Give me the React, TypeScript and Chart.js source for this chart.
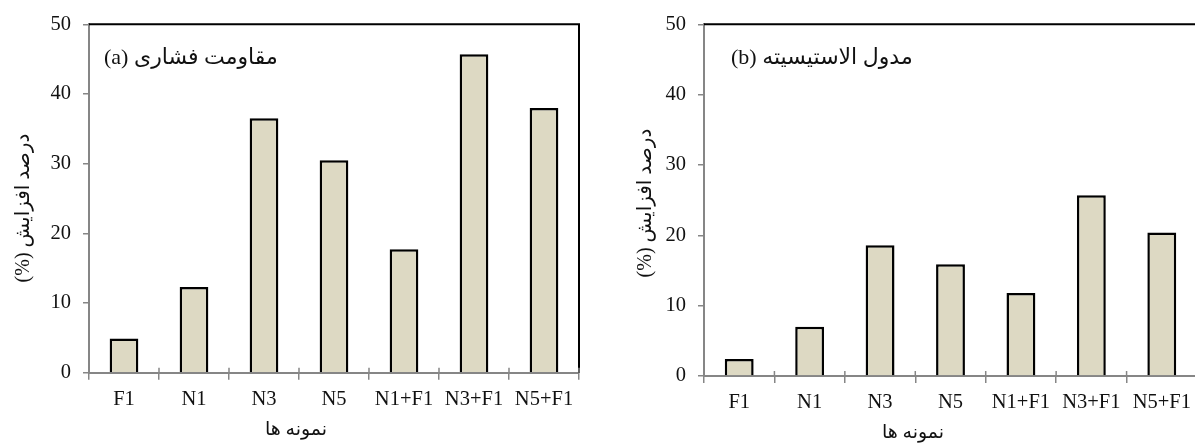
import React, { useEffect, useRef } from 'react';
import { Chart, registerables } from 'chart.js';

Chart.register(...registerables);

// ---- data ----
const categories = ['F1', 'N1', 'N3', 'N5', 'N1+F1', 'N3+F1', 'N5+F1'];
const compressiveIncrease = [4.9, 12.3, 36.5, 30.5, 17.7, 45.7, 38.0];
const modulusIncrease = [2.4, 7.0, 18.6, 15.9, 11.8, 25.7, 20.4];
const yTickValues = [0, 10, 20, 30, 40, 50];
const yAxisTitle = 'درصد افزایش (%)';
const xAxisTitle = 'نمونه ها';
const panelTitleA = 'مقاومت فشاری (a)';
const panelTitleB = 'مدول الاستیسیته (b)';

const SERIF = "'Liberation Serif', 'Times New Roman', 'DejaVu Serif', serif";
const PERSIAN = "'Liberation Serif', 'DejaVu Sans', serif";
const AXIS_GRAY = '#868686';
const BAR_FILL = '#DDD9C3';

type PanelOpts = {
  values: number[];
  panel: string;
  axisWidth: number;
  axisHeight: number;
  padTop: number;
  padRight: number;
  panelX: number;
  panelY: number;
  yTitleX: number;
  yTitleY: number;
  xTitleX: number;
  xTitleY: number;
};

const decorPlugin = {
  id: 'decor',
  afterDraw(chart: any, _args: any, o: any) {
    const { ctx, chartArea } = chart;
    const { left, right, top, bottom } = chartArea;
    ctx.save();
    // top + right frame
    ctx.strokeStyle = '#000';
    ctx.lineWidth = 2;
    ctx.beginPath();
    ctx.moveTo(left, top);
    ctx.lineTo(right, top);
    ctx.lineTo(right, bottom);
    ctx.stroke();
    // inner part of category boundary ticks
    const xs = chart.scales.x;
    const half = (xs.getPixelForValue(1) - xs.getPixelForValue(0)) / 2;
    ctx.strokeStyle = AXIS_GRAY;
    ctx.lineWidth = 1.5;
    for (let i = 0; i <= categories.length; i++) {
      const px = xs.getPixelForValue(i) - half;
      ctx.beginPath();
      ctx.moveTo(px, bottom - 5);
      ctx.lineTo(px, bottom);
      ctx.stroke();
    }
    // texts
    ctx.fillStyle = '#111';
    ctx.direction = 'rtl';
    ctx.textBaseline = 'middle';
    ctx.font = `22px ${PERSIAN}`;
    ctx.textAlign = 'left';
    ctx.fillText(o.panel, o.panelX, o.panelY);

    ctx.font = `19px ${PERSIAN}`;
    ctx.textAlign = 'center';
    ctx.fillText(xAxisTitle, o.xTitleX, o.xTitleY);

    ctx.font = `20px ${PERSIAN}`;
    ctx.translate(o.yTitleX, o.yTitleY);
    ctx.rotate(-Math.PI / 2);
    ctx.fillText(yAxisTitle, 0, 0);
    ctx.restore();
  },
};

function makeConfig(p: PanelOpts): any {
  return {
    type: 'bar',
    data: {
      labels: categories,
      datasets: [
        {
          data: p.values,
          backgroundColor: BAR_FILL,
          borderColor: '#000',
          borderWidth: 2.5,
          borderSkipped: 'bottom',
          barPercentage: 0.41,
          categoryPercentage: 1,
        },
      ],
    },
    plugins: [decorPlugin],
    options: {
      responsive: false,
      animation: false,
      devicePixelRatio: 1,
      layout: { padding: { top: p.padTop, right: p.padRight, left: 0, bottom: 0 } },
      plugins: {
        legend: { display: false },
        tooltip: { enabled: false },
        decor: {
          panel: p.panel,
          panelX: p.panelX,
          panelY: p.panelY,
          yTitleX: p.yTitleX,
          yTitleY: p.yTitleY,
          xTitleX: p.xTitleX,
          xTitleY: p.xTitleY,
        },
      },
      scales: {
        x: {
          offset: true,
          grid: {
            offset: true,
            drawOnChartArea: false,
            drawTicks: true,
            tickLength: 7,
            color: AXIS_GRAY,
            lineWidth: 1.5,
          },
          border: { color: AXIS_GRAY, width: 2 },
          ticks: {
            color: '#111',
            font: { family: SERIF, size: 20.5 },
            padding: 7.5,
            maxRotation: 0,
            autoSkip: false,
          },
          afterFit(scale: any) {
            scale.height = p.axisHeight;
          },
        },
        y: {
          min: 0,
          max: 50,
          afterBuildTicks(scale: any) {
            scale.ticks = yTickValues.map((v) => ({ value: v }));
          },
          grid: {
            drawOnChartArea: false,
            drawTicks: true,
            tickLength: 6,
            color: AXIS_GRAY,
            lineWidth: 1.5,
          },
          border: { color: AXIS_GRAY, width: 2 },
          ticks: {
            color: '#111',
            font: { family: SERIF, size: 20.5 },
            padding: 12,
          },
          afterFit(scale: any) {
            scale.width = p.axisWidth;
          },
        },
      },
    },
  };
}

function BarPanel({ opts, left }: { opts: PanelOpts; left: number }) {
  const ref = useRef<HTMLCanvasElement | null>(null);
  useEffect(() => {
    if (!ref.current) return;
    const chart = new Chart(ref.current, makeConfig(opts));
    return () => chart.destroy();
  }, [opts]);
  return (
    <canvas
      ref={ref}
      width={600}
      height={443}
      style={{ position: 'absolute', left, top: 0, width: 600, height: 443 }}
    />
  );
}

const panelA: PanelOpts = {
  values: compressiveIncrease,
  panel: panelTitleA,
  axisWidth: 89,
  axisHeight: 70.3,
  padTop: 19.7,
  padRight: 21,
  panelX: 104,
  panelY: 58,
  yTitleX: 24,
  yTitleY: 208,
  xTitleX: 296,
  xTitleY: 430,
};

const panelB: PanelOpts = {
  values: modulusIncrease,
  panel: panelTitleB,
  axisWidth: 104,
  axisHeight: 67,
  padTop: 20.7,
  padRight: 3,
  panelX: 131,
  panelY: 58,
  yTitleX: 46,
  yTitleY: 203,
  xTitleX: 313,
  xTitleY: 433,
};

export default function App() {
  return (
    <div
      style={{
        position: 'absolute',
        left: 0,
        top: 0,
        width: 1195,
        height: 443,
        overflow: 'hidden',
        background: '#fff',
      }}
    >
      <BarPanel opts={panelA} left={0} />
      <BarPanel opts={panelB} left={600} />
    </div>
  );
}
